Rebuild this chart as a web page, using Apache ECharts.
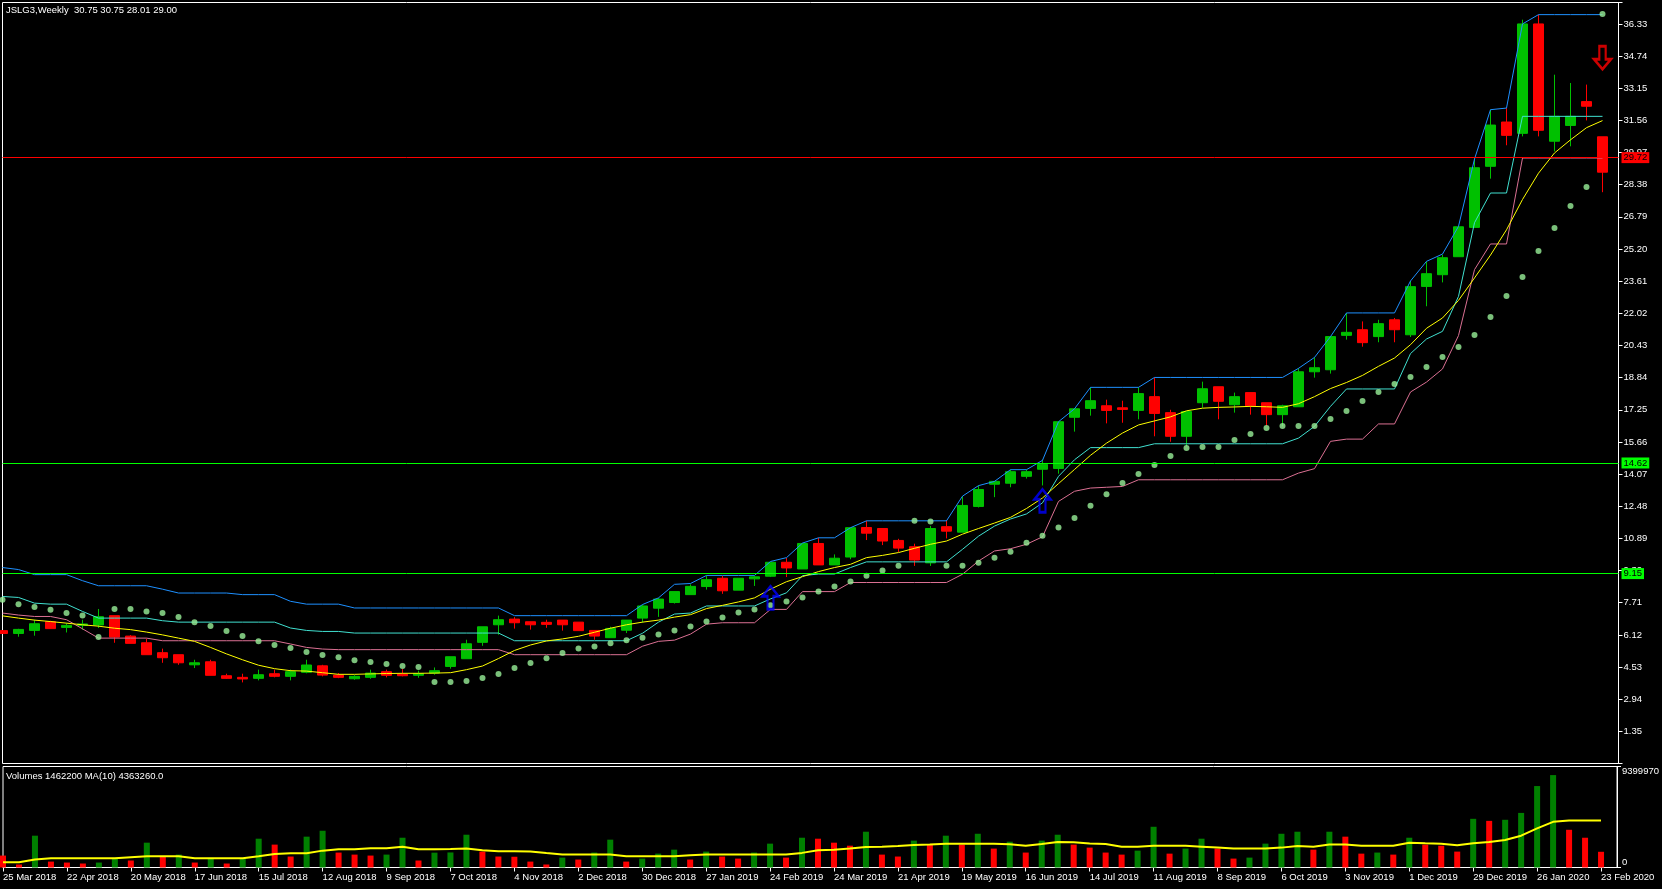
<!DOCTYPE html>
<html><head><meta charset="utf-8">
<script src="https://cdn.jsdelivr.net/npm/echarts@6/dist/echarts.min.js"></script>
<style>html,body{margin:0;padding:0;background:#000;}#c{width:1662px;height:889px;}</style>
</head><body><div id="c"></div>
<script>
const dates = ['25 Mar 2018','1 Apr 2018','8 Apr 2018','15 Apr 2018','22 Apr 2018','29 Apr 2018','6 May 2018','13 May 2018','20 May 2018','27 May 2018',
'3 Jun 2018','10 Jun 2018','17 Jun 2018','24 Jun 2018','1 Jul 2018','8 Jul 2018','15 Jul 2018','22 Jul 2018','29 Jul 2018','5 Aug 2018',
'12 Aug 2018','19 Aug 2018','26 Aug 2018','2 Sep 2018','9 Sep 2018','16 Sep 2018','23 Sep 2018','30 Sep 2018','7 Oct 2018','14 Oct 2018',
'21 Oct 2018','28 Oct 2018','4 Nov 2018','11 Nov 2018','18 Nov 2018','25 Nov 2018','2 Dec 2018','9 Dec 2018','16 Dec 2018','23 Dec 2018',
'30 Dec 2018','6 Jan 2019','13 Jan 2019','20 Jan 2019','27 Jan 2019','3 Feb 2019','10 Feb 2019','17 Feb 2019','24 Feb 2019','3 Mar 2019',
'10 Mar 2019','17 Mar 2019','24 Mar 2019','31 Mar 2019','7 Apr 2019','14 Apr 2019','21 Apr 2019','28 Apr 2019','5 May 2019','12 May 2019',
'19 May 2019','26 May 2019','2 Jun 2019','9 Jun 2019','16 Jun 2019','23 Jun 2019','30 Jun 2019','7 Jul 2019','14 Jul 2019','21 Jul 2019',
'28 Jul 2019','4 Aug 2019','11 Aug 2019','18 Aug 2019','25 Aug 2019','1 Sep 2019','8 Sep 2019','15 Sep 2019','22 Sep 2019','29 Sep 2019',
'6 Oct 2019','13 Oct 2019','20 Oct 2019','27 Oct 2019','3 Nov 2019','10 Nov 2019','17 Nov 2019','24 Nov 2019','1 Dec 2019','8 Dec 2019',
'15 Dec 2019','22 Dec 2019','29 Dec 2019','5 Jan 2020','12 Jan 2020','19 Jan 2020','26 Jan 2020','2 Feb 2020','9 Feb 2020','16 Feb 2020',
'23 Feb 2020'];

const opens = [6.33,6.19,6.34,6.77,6.49,6.59,6.61,7.07,6.06,5.73,
5.24,5.14,4.64,4.79,4.10,4.02,3.97,4.20,4.07,4.27,
4.59,4.13,3.95,4.02,4.30,4.18,4.12,4.23,4.56,4.94,
5.75,6.62,6.90,6.77,6.74,6.85,6.75,6.34,5.98,6.35,
6.95,7.44,7.72,8.11,8.51,8.92,8.33,8.89,9.02,9.71,
9.38,10.64,9.58,9.97,11.43,11.38,10.79,10.48,9.68,11.47,
11.20,12.47,13.57,13.62,13.96,14.31,14.35,16.88,17.32,17.45,
17.35,17.22,17.90,17.11,15.94,17.60,18.39,17.50,18.10,17.60,
17.01,17.40,19.13,19.23,20.93,21.21,20.87,21.70,20.96,23.35,
23.93,24.82,26.27,29.29,31.48,30.92,36.33,30.53,31.31,32.49,
30.75];
const closes = [6.19,6.39,6.67,6.43,6.59,6.66,7.02,6.01,5.70,5.14,
4.99,4.74,4.74,4.12,3.97,3.94,4.15,4.07,4.30,4.63,
4.13,4.02,4.07,4.23,4.12,4.10,4.20,4.35,5.04,5.68,
6.52,6.87,6.72,6.62,6.64,6.62,6.33,6.06,6.44,6.85,
7.55,7.89,8.26,8.52,8.85,8.30,8.92,8.99,9.71,9.43,
10.64,9.58,9.91,11.42,11.15,10.76,10.41,9.82,11.38,11.25,
12.52,13.31,13.71,14.19,14.19,14.55,16.66,17.30,17.70,17.22,
17.27,18.05,17.07,15.94,17.16,18.29,17.67,17.90,17.45,17.01,
17.45,19.13,19.33,20.87,21.08,20.57,21.51,21.21,23.34,23.98,
24.77,26.30,29.22,31.33,30.82,36.33,31.07,31.76,31.76,32.26,
29.00];
const lows = [6.17,6.03,6.08,6.43,6.24,6.38,6.46,5.73,5.70,5.14,
4.74,4.64,4.48,4.12,3.94,3.77,3.87,4.02,3.87,4.22,
4.07,3.98,3.90,3.95,4.02,4.07,4.00,4.15,4.45,4.94,
5.58,6.13,6.43,6.38,6.47,6.33,6.33,5.88,5.98,6.21,
6.73,7.01,7.67,8.11,8.36,8.15,8.33,8.54,8.98,8.98,
9.38,9.58,9.58,9.86,10.81,10.56,10.22,9.53,9.53,10.89,
11.20,12.42,12.93,13.42,13.85,13.51,14.09,16.17,16.96,16.58,
16.61,16.78,15.94,15.67,15.44,17.35,16.78,17.11,17.01,16.46,
16.43,17.40,18.84,19.04,20.72,20.37,20.59,20.59,20.85,22.37,
23.55,24.82,26.27,28.68,30.33,30.77,30.77,30.03,30.28,31.56,
28.01];
const highs = [6.36,6.42,6.87,6.82,6.70,6.87,7.40,7.07,6.11,5.93,
5.44,5.14,4.89,4.89,4.20,4.20,4.40,4.40,4.40,4.89,
4.64,4.23,4.13,4.40,4.40,4.43,4.35,4.51,5.04,5.88,
6.52,7.07,7.00,6.77,6.87,6.85,6.75,6.34,6.52,6.85,
7.62,7.95,8.26,8.62,9.05,9.04,8.92,9.04,9.71,9.92,
10.64,10.92,10.10,11.42,11.76,11.38,10.87,10.63,11.51,11.80,
12.98,13.50,13.71,14.29,14.29,14.78,16.66,17.30,18.36,17.75,
17.70,18.36,18.85,17.25,17.16,18.64,18.39,18.10,18.10,17.60,
17.50,19.30,19.84,20.87,22.04,21.62,21.70,21.79,23.62,24.59,
24.92,26.30,29.65,32.09,32.17,36.54,36.79,33.82,33.41,33.33,
30.75];

const channelHigh = [9.45,9.35,9.10,9.10,9.10,8.80,8.55,8.55,8.55,8.55,
8.38,8.19,8.19,8.19,8.19,8.11,8.11,8.11,7.78,7.64,
7.64,7.64,7.45,7.45,7.45,7.45,7.45,7.45,7.45,7.45,
7.45,7.45,7.07,7.07,7.07,7.07,7.07,7.07,7.07,7.07,
7.62,7.95,8.62,8.66,9.06,9.06,9.06,9.06,9.75,9.94,
10.66,10.92,10.92,11.42,11.76,11.76,11.76,11.76,11.76,11.76,
12.98,13.50,13.71,14.29,14.29,14.75,16.66,17.30,18.36,18.36,
18.36,18.36,18.85,18.85,18.85,18.85,18.85,18.85,18.85,18.85,
18.85,19.30,19.84,20.87,22.04,22.04,22.04,22.04,23.62,24.59,
24.95,26.32,29.65,32.09,32.17,36.33,36.79,36.79,36.79,36.79,
36.79];
const channelMid = [8.02,7.97,7.69,7.64,7.64,7.28,6.95,6.95,6.95,6.95,
6.82,6.75,6.75,6.75,6.75,6.75,6.75,6.75,6.46,6.34,
6.29,6.29,6.21,6.21,6.21,6.21,6.21,6.21,6.21,6.21,
6.21,6.21,5.83,5.83,5.83,5.83,5.83,5.83,5.83,5.83,
6.20,6.75,7.15,7.20,7.55,7.55,7.55,7.55,7.90,8.20,
9.05,9.13,9.13,9.45,9.73,9.73,9.73,9.73,9.73,9.73,
10.35,11.00,11.50,11.85,12.10,12.65,13.96,14.78,15.38,15.38,
15.38,15.38,15.57,15.57,15.57,15.57,15.57,15.57,15.57,15.57,
15.57,15.85,16.43,17.42,18.28,18.28,18.28,18.28,20.03,20.75,
21.13,22.86,26.50,27.97,27.97,31.76,31.76,31.76,31.76,31.76,
31.76];
const channelLow = [7.20,7.10,7.03,7.03,6.87,6.42,5.96,5.96,5.96,5.96,
5.83,5.83,5.83,5.83,5.83,5.83,5.83,5.83,5.67,5.50,
5.42,5.39,5.39,5.39,5.39,5.39,5.39,5.39,5.39,5.39,
5.39,5.39,5.14,5.14,5.14,5.14,5.14,5.14,5.14,5.14,
5.56,5.80,5.86,6.16,6.65,6.72,6.72,6.72,7.38,7.38,
8.26,8.26,8.26,8.71,8.71,8.71,8.71,8.71,8.71,8.71,
9.12,9.77,10.27,10.38,10.60,10.97,12.72,13.22,13.38,13.42,
13.46,13.79,13.79,13.79,13.79,13.79,13.79,13.79,13.79,13.79,
13.79,14.12,14.34,15.69,15.80,15.80,16.55,16.55,18.13,18.62,
19.27,20.92,24.18,25.45,25.45,29.70,29.70,29.70,29.70,29.70,
29.70];
const priceMA = [7.06,6.95,6.85,6.78,6.70,6.62,6.55,6.45,6.38,6.26,
6.12,5.96,5.80,5.50,5.18,4.89,4.62,4.45,4.35,4.33,
4.25,4.17,4.17,4.19,4.21,4.22,4.22,4.23,4.25,4.40,
4.58,4.95,5.35,5.62,5.82,5.92,6.05,6.25,6.45,6.62,
6.75,6.85,7.00,7.12,7.42,7.58,7.75,7.95,8.38,8.75,
9.00,9.25,9.45,9.61,9.94,10.05,10.19,10.40,10.60,10.76,
11.10,11.38,11.65,11.93,12.37,12.89,13.60,14.30,15.00,15.60,
16.10,16.50,16.70,16.90,17.20,17.33,17.37,17.39,17.42,17.40,
17.37,17.55,17.90,18.30,18.60,18.95,19.40,19.81,20.47,21.28,
21.79,22.66,23.77,24.90,26.15,27.65,28.95,29.95,30.60,31.20,
31.55];
const parabolicSAR = [7.86,7.64,7.50,7.36,7.20,7.08,6.01,7.40,7.40,7.28,
7.20,7.00,6.75,6.56,6.31,6.06,5.81,5.62,5.47,5.27,
5.12,5.02,4.87,4.78,4.68,4.58,4.53,3.79,3.79,3.84,
3.99,4.18,4.48,4.73,4.97,5.22,5.45,5.55,5.70,5.85,
5.98,6.14,6.34,6.54,6.78,6.98,7.23,7.38,7.59,7.77,
7.97,8.26,8.51,8.76,9.05,9.30,9.54,11.76,11.73,9.54,
9.54,9.69,9.94,10.23,10.68,11.02,11.43,11.90,12.51,13.08,
13.63,14.07,14.52,14.96,15.36,15.41,15.41,15.76,16.05,16.35,
16.45,16.45,16.45,16.79,17.19,17.68,18.13,18.52,18.87,19.37,
19.86,20.35,20.95,21.84,22.88,23.82,25.10,26.24,27.33,28.27,
36.82];

const volumes = [1110000,280000,2960000,550000,460000,370000,460000,830000,650000,2310000,
990000,1200000,460000,830000,370000,830000,2680000,2130000,1020000,2870000,
3420000,1390000,1200000,1110000,1200000,2770000,650000,1380000,1400000,3050000,
1480000,1020000,1000000,550000,280000,920000,740000,1390000,2590000,550000,
830000,1290000,1660000,740000,1480000,1020000,830000,1390000,2220000,920000,
2770000,2680000,2310000,2030000,3330000,1200000,1020000,2500000,2130000,2960000,
2130000,3140000,1760000,2400000,1390000,2500000,3050000,2130000,1850000,1390000,
1200000,1570000,3790000,1290000,1760000,2680000,1760000,830000,920000,2220000,
3140000,3330000,1660000,3330000,2870000,1290000,1390000,1200000,2770000,2130000,
2030000,1480000,4530000,4340000,4440000,5080000,7580000,8600000,3510000,2770000,
1462200];
const volumeMA = [490000,490000,740000,860000,860000,860000,860000,860000,960000,1050000,
1050000,1050000,860000,860000,860000,860000,1050000,1260000,1320000,1320000,
1570000,1690000,1690000,1790000,1790000,1940000,1690000,1690000,1720000,1760000,
1600000,1510000,1510000,1480000,1340000,1210000,1200000,1200000,1200000,1050000,
1050000,1050000,1050000,1140000,1200000,1200000,1200000,1200000,1200000,1200000,
1360000,1600000,1660000,1760000,1910000,1940000,2000000,2100000,2130000,2220000,
2220000,2220000,2220000,2160000,2030000,2190000,2370000,2340000,2240000,2190000,
1940000,1940000,2030000,2030000,2030000,1940000,1850000,1760000,1760000,1760000,
1850000,2000000,1940000,2130000,2130000,2030000,2030000,2030000,2310000,2250000,
2220000,2060000,2250000,2370000,2560000,2960000,3640000,4250000,4370000,4370000,
4363260];

const levelLines = [14.62, 9.15, 29.72];
const buyIdx = [48, 65];
const buyPrice = [7.96, 12.75];
const sellIdx = [100];
const sellPrice = [34.66];

const volumeMax = 9399970;
const priceTickStep = 1.59;
const titleText = 'JSLG3,Weekly  30.75 30.75 28.01 29.00';
const volTitleText = 'Volumes 1462200 MA(10) 4363260.0';

// ---- build ----
const FONT = 'Liberation Sans';
const FS = 9.5;
const cats = dates.concat(['']);
const candleData = opens.map((o, i) => [o, closes[i], lows[i], highs[i]]);
const volData = volumes.map((v, i) => ({
  value: v,
  itemStyle: { color: (i > 0 && v > volumes[i - 1]) ? '#008000' : '#ff0000' }
}));
const buyData = buyIdx.map((x, k) => [x, buyPrice[k]]);
const sellData = sellIdx.map((x, k) => [x, sellPrice[k]]);
const levelColors = { '14.62': '#00ff00', '9.15': '#00ff00', '29.72': '#ff0000' };

const upArrow = 'path://M8 0L16 10L11 10L11 23L5 23L5 10L0 10Z';
const downArrow = 'path://M5 0L11 0L11 13L16 13L8 23L0 13L5 13Z';

const chart = echarts.init(document.getElementById('c'), null, { renderer: 'canvas', width: 1662, height: 889 });
const lineSeries = (name, data, color, width) => ({
  name, type: 'line', xAxisIndex: 0, yAxisIndex: 0, data,
  symbol: 'none', lineStyle: { color, width }, z: 3, silent: true
});

chart.setOption({
  backgroundColor: '#000',
  animation: false,
  textStyle: { fontFamily: FONT },
  title: [
    { text: titleText, left: 6, top: 5, padding: 0,
      textStyle: { color: '#fff', fontSize: FS, fontWeight: 'normal', fontFamily: FONT } },
    { text: volTitleText, left: 6, top: 771, padding: 0,
      textStyle: { color: '#fff', fontSize: FS, fontWeight: 'normal', fontFamily: FONT } }
  ],
  grid: [
    { left: 2.5, top: 2.5, width: 1616, height: 761, show: true, borderColor: '#fff', borderWidth: 1, backgroundColor: 'transparent' },
    { left: 2.5, top: 766.5, width: 1616, height: 101, show: true, borderColor: '#fff', borderWidth: 1, backgroundColor: 'transparent' }
  ],
  xAxis: [
    { type: 'category', data: cats, gridIndex: 0, boundaryGap: false,
      axisLine: { show: false }, axisTick: { show: false }, axisLabel: { show: false }, splitLine: { show: false } },
    { type: 'category', data: cats, gridIndex: 1, boundaryGap: false,
      axisLine: { show: true, lineStyle: { color: '#fff', width: 1 } },
      axisTick: { show: true, interval: 3, length: 4, lineStyle: { color: '#fff' } },
      axisLabel: { interval: 3, color: '#fff', fontSize: FS, fontFamily: FONT, align: 'left', margin: 5 },
      splitLine: { show: false } }
  ],
  yAxis: [
    { type: 'value', gridIndex: 0, position: 'right', min: -0.24, max: 37.39, interval: priceTickStep,
      axisLine: { show: true, lineStyle: { color: '#fff' } },
      axisTick: { show: true, length: 4, lineStyle: { color: '#fff' } },
      axisLabel: { color: '#fff', fontSize: FS, fontFamily: FONT, margin: 5,
        formatter: v => (v > 1 && v < 37 ? v.toFixed(2) : '') },
      splitLine: { show: false } },
    { type: 'value', gridIndex: 1, position: 'right', min: 0, max: volumeMax, interval: volumeMax,
      axisLine: { show: true, lineStyle: { color: '#fff' } },
      axisTick: { show: true, length: 4, lineStyle: { color: '#fff' } },
      axisLabel: { color: '#fff', fontSize: FS, fontFamily: FONT, margin: 5, verticalAlign: 'top',
        formatter: v => (v > 0 ? String(v) : '') },
      splitLine: { show: false } },
    { type: 'value', gridIndex: 1, position: 'right', min: 0, max: volumeMax, interval: volumeMax,
      axisLine: { show: false }, axisTick: { show: false },
      axisLabel: { color: '#fff', fontSize: FS, fontFamily: FONT, margin: 5, verticalAlign: 'bottom',
        formatter: v => (v === 0 ? '0' : '') },
      splitLine: { show: false } }
  ],
  series: [
    { name: 'JSLG3', type: 'candlestick', xAxisIndex: 0, yAxisIndex: 0, data: candleData,
      barWidth: 11, clip: true, z: 2, silent: true,
      itemStyle: { color: '#00c000', color0: '#ff0000', borderColor: '#00c000', borderColor0: '#ff0000', borderWidth: 1 },
      markLine: {
        silent: true, symbol: ['none', 'none'], animation: false,
        lineStyle: { type: 'solid', width: 1 },
        label: { show: true, position: 'end', distance: 3, fontSize: FS, fontFamily: FONT, color: '#000',
          padding: [1, 2, 0, 2], formatter: p => p.value.toFixed(2) },
        data: levelLines.map(v => ({
          yAxis: v,
          lineStyle: { color: levelColors[v.toFixed(2)] },
          label: { backgroundColor: levelColors[v.toFixed(2)] }
        }))
      }
    },
    lineSeries('channelHigh', channelHigh, '#1e90ff', 1),
    lineSeries('channelMid', channelMid, '#40e0d0', 1),
    lineSeries('channelLow', channelLow, '#db7093', 1),
    lineSeries('priceMA', priceMA, '#ffff00', 1),
    { name: 'SAR', type: 'scatter', xAxisIndex: 0, yAxisIndex: 0, data: parabolicSAR,
      symbol: 'circle', symbolSize: 6, itemStyle: { color: '#98f098' }, z: 4, silent: true },
    { name: 'buy', type: 'scatter', xAxisIndex: 0, yAxisIndex: 0, data: buyData,
      symbol: upArrow, symbolSize: [16, 23],
      itemStyle: { color: 'rgba(0,0,0,0)', borderColor: '#0000ff', borderWidth: 2.5 }, z: 6, silent: true },
    { name: 'sell', type: 'scatter', xAxisIndex: 0, yAxisIndex: 0, data: sellData,
      symbol: downArrow, symbolSize: [17, 23],
      itemStyle: { color: 'rgba(0,0,0,0)', borderColor: '#ff0000', borderWidth: 2.5 }, z: 6, silent: true },
    { name: 'Volumes', type: 'bar', xAxisIndex: 1, yAxisIndex: 1, data: volData, barWidth: 6, z: 2, silent: true },
    { name: 'VolMA', type: 'line', xAxisIndex: 1, yAxisIndex: 1, data: volumeMA, symbol: 'none',
      lineStyle: { color: '#ffff00', width: 2 }, z: 3, silent: true }
  ]
});
</script>
</body></html>
